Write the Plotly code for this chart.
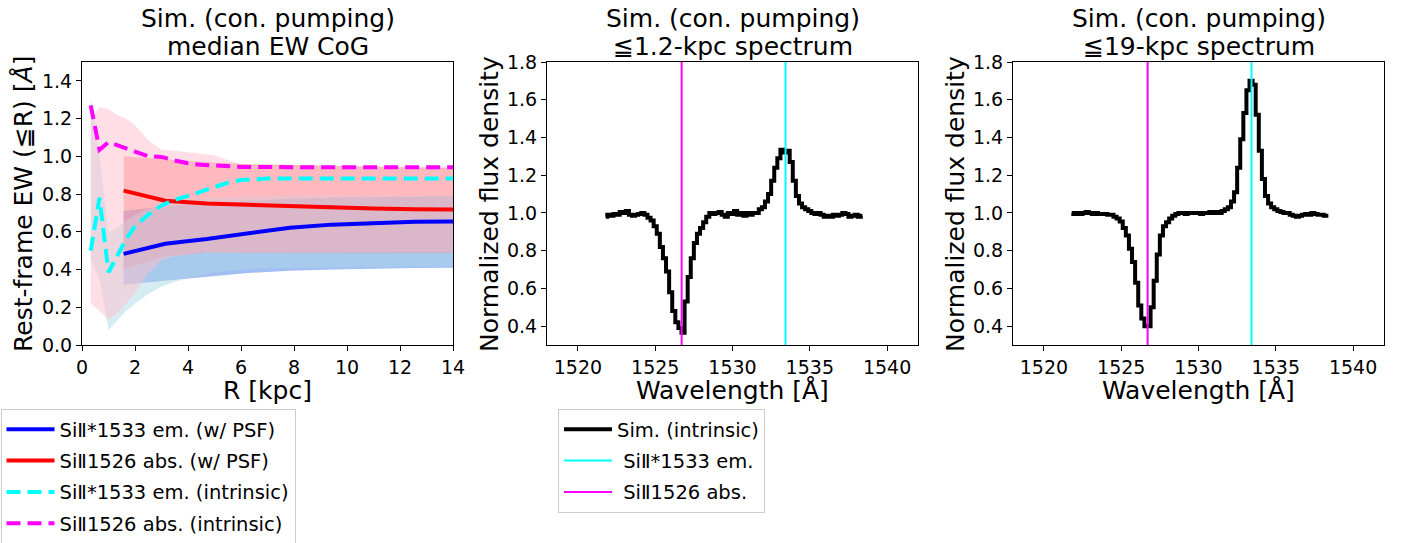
import plotly.graph_objects as go

# ---------------- data: left panel (EW curve of growth) ----------------
R_psf = [1.57, 3.14, 4.71, 6.28, 7.85, 9.42, 10.99, 12.56, 14.13]
ew_em_psf = [0.483, 0.537, 0.562, 0.592, 0.622, 0.638, 0.648, 0.653, 0.655]
ew_abs_psf = [0.818, 0.765, 0.750, 0.742, 0.735, 0.728, 0.723, 0.720, 0.718]
em_psf_lo = [0.32, 0.34, 0.362, 0.382, 0.394, 0.40, 0.405, 0.408, 0.41]
em_psf_hi = [0.71, 0.735, 0.752, 0.765, 0.775, 0.780, 0.785, 0.787, 0.788]
abs_psf_lo = [0.40, 0.47, 0.49, 0.492, 0.49, 0.489, 0.488, 0.487, 0.487]
abs_psf_hi = [1.00, 0.985, 0.968, 0.958, 0.953, 0.948, 0.944, 0.941, 0.938]

R_int = [0.33, 0.66, 1.0, 1.33, 1.66, 2.0, 2.5, 3.0, 3.5, 4.0, 4.5, 5.0, 5.5, 6.0,
         6.5, 7.0, 8.0, 9.0, 10.0, 11.0, 12.0, 13.0, 14.0]
ew_em_int = [0.50, 0.78, 0.385, 0.47, 0.56, 0.63, 0.69, 0.74, 0.77, 0.79, 0.815, 0.84,
             0.86, 0.875, 0.88, 0.882, 0.882, 0.882, 0.882, 0.882, 0.882, 0.882, 0.882]
ew_abs_int = [1.27, 1.035, 1.075, 1.06, 1.045, 1.025, 1.0, 0.997, 0.978, 0.963, 0.955,
              0.95, 0.946, 0.944, 0.943, 0.943, 0.942, 0.942, 0.942, 0.942, 0.942, 0.942, 0.942]
em_int_lo = [0.45, 0.35, 0.08, 0.13, 0.18, 0.22, 0.27, 0.31, 0.335, 0.355, 0.372, 0.385,
             0.393, 0.40, 0.404, 0.407, 0.41, 0.412, 0.414, 0.415, 0.416, 0.417, 0.418]
em_int_hi = [1.315, 1.0, 0.60, 0.62, 0.66, 0.69, 0.72, 0.745, 0.76, 0.77, 0.775, 0.78,
             0.783, 0.785, 0.787, 0.79, 0.79, 0.79, 0.79, 0.79, 0.79, 0.79, 0.79]
abs_int_lo = [0.22, 0.18, 0.135, 0.17, 0.22, 0.28, 0.38, 0.45, 0.47, 0.48, 0.49, 0.49,
              0.49, 0.49, 0.49, 0.49, 0.49, 0.49, 0.49, 0.49, 0.49, 0.49, 0.49]
abs_int_hi = [1.20, 1.26, 1.25, 1.22, 1.20, 1.165, 1.085, 1.035, 1.03, 1.022, 1.017, 1.006,
              0.98, 0.958, 0.95, 0.948, 0.946, 0.946, 0.946, 0.945, 0.945, 0.945, 0.945]

# ---------------- data: spectra ----------------
wl = [1521.8, 1522.0, 1522.2, 1522.4, 1522.6, 1522.8, 1523.0, 1523.2, 1523.4, 1523.6,
      1523.8, 1524.0, 1524.2, 1524.4, 1524.6, 1524.8, 1525.0, 1525.2, 1525.4, 1525.6,
      1525.8, 1526.0, 1526.2, 1526.4, 1526.6, 1526.8, 1527.0, 1527.2, 1527.4, 1527.6,
      1527.8, 1528.0, 1528.2, 1528.4, 1528.6, 1528.8, 1529.0, 1529.2, 1529.4, 1529.6,
      1529.8, 1530.0, 1530.2, 1530.4, 1530.6, 1530.8, 1531.0, 1531.2, 1531.4, 1531.6,
      1531.8, 1532.0, 1532.2, 1532.4, 1532.6, 1532.8, 1533.0, 1533.2, 1533.4, 1533.6,
      1533.8, 1534.0, 1534.2, 1534.4, 1534.6, 1534.8, 1535.0, 1535.2, 1535.4, 1535.6,
      1535.8, 1536.0, 1536.2, 1536.4, 1536.6, 1536.8, 1537.0, 1537.2, 1537.4, 1537.6,
      1537.8, 1538.0, 1538.2, 1538.4]
flux_1p2kpc = [0.98, 0.99, 0.985, 0.995, 0.99, 1.005, 1.0, 1.01, 0.99, 0.985,
               0.99, 0.995, 1.0, 0.99, 0.975, 0.96, 0.93, 0.89, 0.82, 0.76,
               0.69, 0.58, 0.48, 0.42, 0.39, 0.365, 0.53, 0.66, 0.76, 0.84,
               0.89, 0.92, 0.95, 0.98, 1.0, 0.995, 1.0, 1.005, 0.99, 0.98,
               1.0, 0.995, 1.01, 0.99, 1.0, 0.985, 1.0, 0.99, 1.0, 1.0,
               1.02, 1.03, 1.06, 1.10, 1.17, 1.24, 1.29, 1.335, 1.32, 1.33,
               1.27, 1.17, 1.09, 1.05, 1.03, 1.02, 1.01, 1.0, 0.995, 1.0,
               0.99, 0.98, 0.985, 0.98, 0.99, 0.985, 0.99, 1.0, 0.995, 0.98,
               0.985, 0.99, 0.98, 0.985]
flux_19kpc = [1.0, 0.995, 1.0, 0.995, 1.0, 1.005, 1.0, 0.995, 1.0, 0.995,
              0.995, 0.995, 0.99, 0.99, 0.98, 0.97, 0.955, 0.92, 0.88, 0.81,
              0.74, 0.63, 0.51, 0.44, 0.40, 0.40, 0.50, 0.64, 0.78, 0.88,
              0.93, 0.95, 0.97, 0.985, 0.995, 1.0, 1.0, 0.995, 1.0, 1.0,
              1.0, 1.0, 0.995, 1.0, 1.0, 1.005, 1.0, 1.005, 1.0, 1.01,
              1.02, 1.03, 1.06, 1.11, 1.24, 1.39, 1.53, 1.65, 1.70, 1.68,
              1.52, 1.33, 1.18, 1.09, 1.05, 1.03, 1.02, 1.01, 1.005, 1.0,
              1.0, 0.99, 0.985, 0.98, 0.985, 0.99, 0.995, 0.99, 1.0, 0.995,
              0.99, 0.99, 0.985, 0.985]
wl_em_line = 1533.43
wl_abs_line = 1526.71

left_titles = ["Sim. (con. pumping)", "median EW CoG"]
mid_titles = ["Sim. (con. pumping)", "≦1.2-kpc spectrum"]
right_titles = ["Sim. (con. pumping)", "≦19-kpc spectrum"]
R_ticks = [0, 2, 4, 6, 8, 10, 12, 14]
ew_ticks = [0.0, 0.2, 0.4, 0.6, 0.8, 1.0, 1.2, 1.4]
wl_ticks = [1520, 1525, 1530, 1535, 1540]
flux_ticks = [0.4, 0.6, 0.8, 1.0, 1.2, 1.4, 1.6, 1.8]

FONT = "DejaVu Sans"
W, H = 1411, 543
flux_range = [0.3, 1.8]
wl_range = [1518, 1542]

fig = go.Figure()


def band(x, lo, hi, color, xa="x", ya="y"):
    fig.add_trace(go.Scatter(x=list(x) + list(x)[::-1], y=list(hi) + list(lo)[::-1],
                             fill="toself", fillcolor=color, line=dict(width=0),
                             mode="lines", showlegend=False, hoverinfo="skip",
                             xaxis=xa, yaxis=ya))


# w/ PSF bands
band(R_psf, em_psf_lo, em_psf_hi, "rgba(100,149,237,0.6)")
band(R_psf, abs_psf_lo, abs_psf_hi, "rgba(255,0,0,0.3)")
# intrinsic bands
band(R_int, em_int_lo, em_int_hi, "rgba(173,216,230,0.5)")
band(R_int, abs_int_lo, abs_int_hi, "rgba(255,192,203,0.5)")

fig.add_trace(go.Scatter(x=R_psf, y=ew_em_psf, mode="lines", line=dict(color="blue", width=4),
                         name="SiⅡ*1533 em. (w/ PSF)", legend="legend", legendgroup="a"))
fig.add_trace(go.Scatter(x=R_psf, y=ew_abs_psf, mode="lines", line=dict(color="red", width=4),
                         name="SiⅡ1526 abs. (w/ PSF)", legend="legend", legendgroup="b"))
fig.add_trace(go.Scatter(x=R_int, y=ew_em_int, mode="lines",
                         line=dict(color="cyan", width=4, dash="14px,7px"),
                         name="SiⅡ*1533 em. (intrinsic)", legend="legend", legendgroup="c"))
fig.add_trace(go.Scatter(x=R_int, y=ew_abs_int, mode="lines",
                         line=dict(color="magenta", width=4, dash="14px,7px"),
                         name="SiⅡ1526 abs. (intrinsic)", legend="legend", legendgroup="d"))

# middle spectrum
fig.add_trace(go.Scatter(x=wl, y=flux_1p2kpc, mode="lines", line=dict(color="black", width=4, shape="hvh"),
                         name="Sim. (intrinsic)", legend="legend2", legendgroup="e",
                         xaxis="x2", yaxis="y2"))
fig.add_trace(go.Scatter(x=[wl_em_line, wl_em_line], y=flux_range, mode="lines",
                         line=dict(color="cyan", width=2), name=" SiⅡ*1533 em.",
                         legend="legend2", legendgroup="f", xaxis="x2", yaxis="y2"))
fig.add_trace(go.Scatter(x=[wl_abs_line, wl_abs_line], y=flux_range, mode="lines",
                         line=dict(color="magenta", width=2), name=" SiⅡ1526 abs.",
                         legend="legend2", legendgroup="g", xaxis="x2", yaxis="y2"))

# right spectrum
fig.add_trace(go.Scatter(x=wl, y=flux_19kpc, mode="lines", line=dict(color="black", width=4, shape="hvh"),
                         showlegend=False, xaxis="x3", yaxis="y3"))
fig.add_trace(go.Scatter(x=[wl_em_line, wl_em_line], y=flux_range, mode="lines",
                         line=dict(color="cyan", width=2), showlegend=False, xaxis="x3", yaxis="y3"))
fig.add_trace(go.Scatter(x=[wl_abs_line, wl_abs_line], y=flux_range, mode="lines",
                         line=dict(color="magenta", width=2), showlegend=False, xaxis="x3", yaxis="y3"))

ydom = [1 - 345 / H, 1 - 62 / H]
axcommon = dict(showline=True, linecolor="black", linewidth=1, mirror=True, ticks="outside",
                ticklen=5, tickwidth=1, tickcolor="black", showgrid=False, zeroline=False,
                automargin=False, tickfont=dict(family=FONT, size=19, color="black"))

panels = [
    ("xaxis", "yaxis", [82, 453], [0, 14], [0, 1.5], R_ticks, ew_ticks),
    ("xaxis2", "yaxis2", [547, 918], wl_range, flux_range, wl_ticks, flux_ticks),
    ("xaxis3", "yaxis3", [1013, 1384], wl_range, flux_range, wl_ticks, flux_ticks),
]
layout = {}
for i, (xn, yn, px, xr, yr, xt, yt) in enumerate(panels):
    suffix = "" if i == 0 else str(i + 1)
    layout[xn] = dict(axcommon, domain=[px[0] / W, px[1] / W], range=xr, tickvals=xt,
                      anchor="y" + suffix)
    layout[yn] = dict(axcommon, domain=ydom, range=yr, tickvals=yt, tickformat=".1f",
                      anchor="x" + suffix)

annotations = []
titles = [left_titles, mid_titles, right_titles]
centers = [(82 + 453) / 2, (547 + 918) / 2, (1013 + 1384) / 2]
for c, t in zip(centers, titles):
    annotations.append(dict(text=t[0], x=c / W, y=1 - 18 / H, xref="paper", yref="paper",
                            xanchor="center", yanchor="middle", showarrow=False,
                            font=dict(family=FONT, size=25, color="black")))
    annotations.append(dict(text=t[1], x=c / W, y=1 - 46 / H, xref="paper", yref="paper",
                            xanchor="center", yanchor="middle", showarrow=False,
                            font=dict(family=FONT, size=25, color="black")))
xtitles = ["R [kpc]", "Wavelength [Å]", "Wavelength [Å]"]
for c, t in zip(centers, xtitles):
    annotations.append(dict(text=t, x=c / W, y=1 - 390 / H, xref="paper", yref="paper",
                            xanchor="center", yanchor="middle", showarrow=False,
                            font=dict(family=FONT, size=25, color="black")))
ytitles = [("Rest-frame EW (≦R) [<i>Å</i>]", 24), ("Normalized flux density", 490),
           ("Normalized flux density", 956)]
for t, xc in ytitles:
    annotations.append(dict(text=t, x=xc / W, y=1 - 204 / H, xref="paper", yref="paper",
                            xanchor="center", yanchor="middle", showarrow=False, textangle=-90,
                            font=dict(family=FONT, size=25, color="black")))

legstyle = dict(bgcolor="white", bordercolor="#cccccc", borderwidth=1,
                font=dict(family=FONT, size=19.5, color="black"), xanchor="left", yanchor="top",
                tracegroupgap=3, itemwidth=48)
fig.update_layout(
    width=W, height=H, margin=dict(l=0, r=0, t=0, b=0, autoexpand=False),
    paper_bgcolor="white", plot_bgcolor="white",
    font=dict(family=FONT, color="black"),
    legend=dict(legstyle, x=0.5 / W, y=1 - 409 / H),
    legend2=dict(legstyle, x=558 / W, y=1 - 409 / H),
    annotations=annotations,
    **layout,
)

fig.write_html("out.html")
